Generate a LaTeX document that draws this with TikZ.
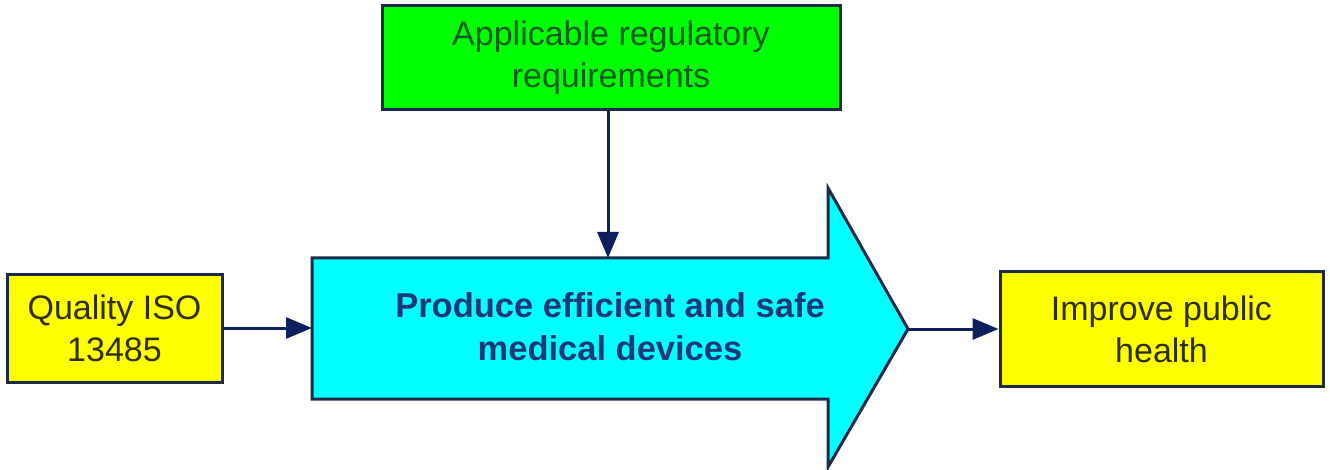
\documentclass[tikz,border=0pt]{standalone}
\usepackage{fontspec}
\setmainfont{Liberation Sans}
\usetikzlibrary{arrows.meta}
\definecolor{bordc}{HTML}{1C2A48}
\definecolor{linec}{HTML}{0E1F5E}
\definecolor{ytext}{HTML}{2E2E0A}
\definecolor{gtext}{HTML}{0B5A1E}
\definecolor{btext}{HTML}{1D3878}
\definecolor{yfill}{HTML}{FFFF00}
\definecolor{gfill}{HTML}{00FF00}
\definecolor{cfill}{HTML}{00FFFF}
\tikzset{
  boxbase/.style={draw=bordc, line width=3pt, inner sep=0pt, align=center,
    font=\fontsize{34}{42}\selectfont},
  ybox/.style={boxbase, fill=yfill, text=ytext},
  gbox/.style={boxbase, fill=gfill, text=gtext},
  conn/.style={draw=linec, line width=3pt, -{Triangle[length=26pt,width=21pt]}},
}
\begin{document}
\begin{tikzpicture}[x=1pt,y=-1pt]
\useasboundingbox (0,0) rectangle (1330,470);
% big arrow
\draw[bordc, line width=3pt, fill=cfill, line join=miter]
  (312,258) -- (828,258) -- (828,188) -- (908,329) -- (828,467) -- (828,399) -- (312,399) -- cycle;
\coordinate (bodyL) at (312,328);
\coordinate (bodyT) at (608,258);
\coordinate (tip) at (908,329);
\node[align=center, text=btext, font=\fontsize{34.5}{43}\selectfont\bfseries, inner sep=0pt] (main) at (610,327)
  {Produce efficient and safe\\medical devices};
% boxes
\node[gbox, minimum width=458pt, minimum height=104pt] (reg) at (611,58)
  {Applicable regulatory\\requirements};
\node[ybox, minimum width=215pt, minimum height=107pt] (iso) at (114.5,328.5)
  {Quality ISO\\13485};
\node[ybox, minimum width=323pt, minimum height=114pt] (pub) at (1161.5,329)
  {Improve public\\health};
% connectors
\draw[conn] (iso.east |- bodyL) -- (bodyL);
\draw[conn] (reg.south -| bodyT) -- (bodyT);
\draw[conn] (tip) -- (pub.west |- tip);
\end{tikzpicture}
\end{document}
